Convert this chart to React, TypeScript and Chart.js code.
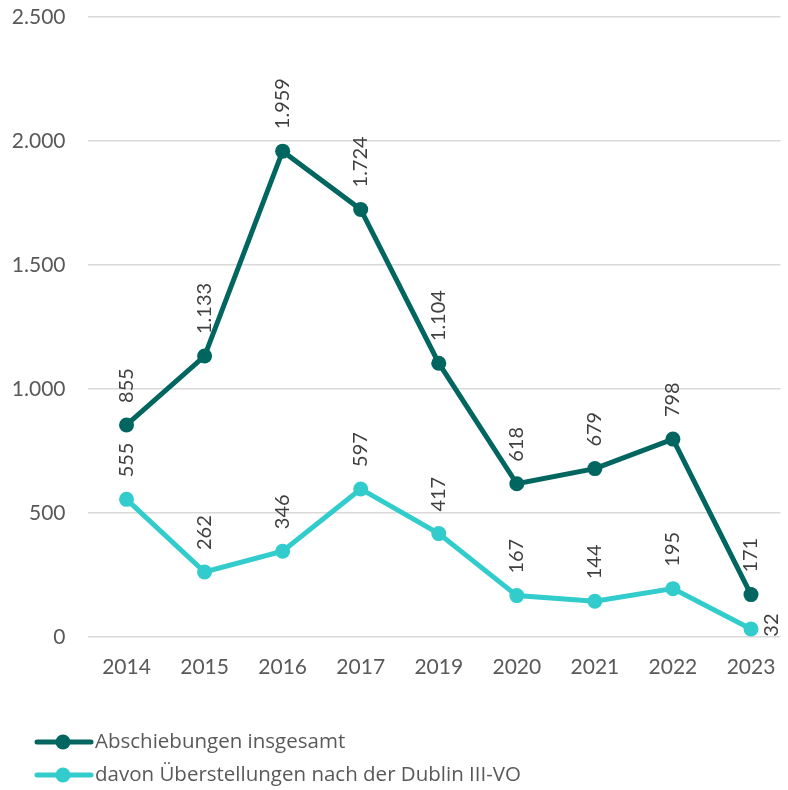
import React, { useEffect, useRef } from "react";
import { Chart, registerables } from "chart.js";

Chart.register(...registerables);

const years = ["2014", "2015", "2016", "2017", "2019", "2020", "2021", "2022", "2023"];
const abschiebungen = [855, 1133, 1959, 1724, 1104, 618, 679, 798, 171];
const dublin = [555, 262, 346, 597, 417, 167, 144, 195, 32];
const seriesNames = ["Abschiebungen insgesamt", "davon Überstellungen nach der Dublin III-VO"];
const yTicks = [0, 500, 1000, 1500, 2000, 2500];

const DARK = "#00665F";
const LIGHT = "#33CCCC";
const FONT = "Lato, 'Open Sans', sans-serif";
const LEGEND_FONT = "'Open Sans', Lato, sans-serif";

const fmt = (v: number) => v.toString().replace(/\B(?=(\d{3})+(?!\d))/g, ".");

const labelPlugin = {
  id: "rotLabels",
  afterDatasetsDraw(chart: any) {
    const ctx = chart.ctx;
    ctx.save();
    ctx.font = `20px ${FONT}`;
    ctx.fillStyle = "#404040";
    chart.data.datasets.forEach((ds: any, di: number) => {
      const meta = chart.getDatasetMeta(di);
      meta.data.forEach((pt: any, i: number) => {
        const txt = fmt(ds.data[i].y);
        const w = ctx.measureText(txt).width;
        let right = false;
        chart.data.datasets.forEach((_o: any, oi: number) => {
          if (oi === di) return;
          const op = chart.getDatasetMeta(oi).data[i];
          if (op && op.y < pt.y && pt.y - op.y < w + 24) right = true;
        });
        ctx.save();
        if (right) {
          ctx.translate(pt.x + 11, pt.y - 4);
          ctx.rotate(-Math.PI / 2);
          ctx.textAlign = "center";
          ctx.textBaseline = "top";
          ctx.fillText(txt, 0, 0);
        } else {
          ctx.translate(pt.x, pt.y - 22);
          ctx.rotate(-Math.PI / 2);
          ctx.textAlign = "left";
          ctx.textBaseline = "middle";
          ctx.fillText(txt, 0, 0);
        }
        ctx.restore();
      });
    });
    ctx.restore();
  },
};

const legendPlugin = {
  id: "customLegend",
  afterDraw(chart: any) {
    const ctx = chart.ctx;
    ctx.save();
    const rows = [742, 775];
    chart.data.datasets.forEach((ds: any, i: number) => {
      const y = rows[i];
      ctx.strokeStyle = ds.borderColor;
      ctx.lineWidth = 5;
      ctx.lineCap = "round";
      ctx.beginPath();
      ctx.moveTo(37, y);
      ctx.lineTo(91, y);
      ctx.stroke();
      ctx.fillStyle = ds.borderColor;
      ctx.beginPath();
      ctx.arc(63, y, 7.5, 0, Math.PI * 2);
      ctx.fill();
      ctx.fillStyle = "#595959";
      ctx.font = `20.5px ${LEGEND_FONT}`;
      ctx.textAlign = "left";
      ctx.textBaseline = "middle";
      ctx.fillText(ds.label, 95, y);
    });
    ctx.restore();
  },
};

export default function App() {
  const ref = useRef<HTMLCanvasElement>(null);
  useEffect(() => {
    if (!ref.current) return;
    const mk = (arr: number[]) => arr.map((y, i) => ({ x: i, y }));
    const chart = new Chart(ref.current, {
      type: "line",
      data: {
        datasets: [
          {
            label: seriesNames[0],
            data: mk(abschiebungen),
            borderColor: DARK,
            backgroundColor: DARK,
            borderWidth: 5,
            pointRadius: 7.5,
            pointBackgroundColor: DARK,
            pointBorderWidth: 0,
            tension: 0,
          },
          {
            label: seriesNames[1],
            data: mk(dublin),
            borderColor: LIGHT,
            backgroundColor: LIGHT,
            borderWidth: 5,
            pointRadius: 7.5,
            pointBackgroundColor: LIGHT,
            pointBorderWidth: 0,
            tension: 0,
          },
        ],
      },
      options: {
        animation: false,
        responsive: false,
        layout: { padding: { top: 17, left: 0, right: 0, bottom: 0 } },
        plugins: { legend: { display: false }, tooltip: { enabled: false } },
        scales: {
          x: {
            type: "linear",
            min: -0.5,
            max: 8.378,
            grid: { display: false, drawTicks: false },
            border: { display: false },
            afterBuildTicks: (s: any) => {
              s.ticks = years.map((_, i) => ({ value: i }));
            },
            afterFit: (s: any) => {
              s.height = 153;
              s.paddingLeft = 0;
              s.paddingRight = 0;
            },
            ticks: {
              padding: 18,
              color: "#595959",
              font: { family: FONT, size: 21 },
              maxRotation: 0,
              autoSkip: false,
              callback: (v: any) => years[Math.round(v)] ?? "",
            },
          },
          y: {
            min: 0,
            max: 2500,
            afterBuildTicks: (s: any) => {
              s.ticks = yTicks.map((v) => ({ value: v }));
            },
            afterFit: (s: any) => {
              s.width = 87.5;
              s.paddingTop = 0;
              s.paddingBottom = 0;
            },
            grid: { color: "#D9D9D9", lineWidth: 1.5, drawTicks: false },
            border: { display: false },
            ticks: {
              padding: 22,
              color: "#595959",
              font: { family: FONT, size: 21 },
              callback: (v: any) => fmt(Number(v)),
            },
          },
        },
      },
      plugins: [labelPlugin, legendPlugin],
    });
    return () => chart.destroy();
  }, []);
  return (
    <div style={{ position: "absolute", left: 0, top: 0, width: 788, height: 790, background: "#fff" }}>
      <canvas ref={ref} width={788} height={790} style={{ width: 788, height: 790 }} />
    </div>
  );
}
